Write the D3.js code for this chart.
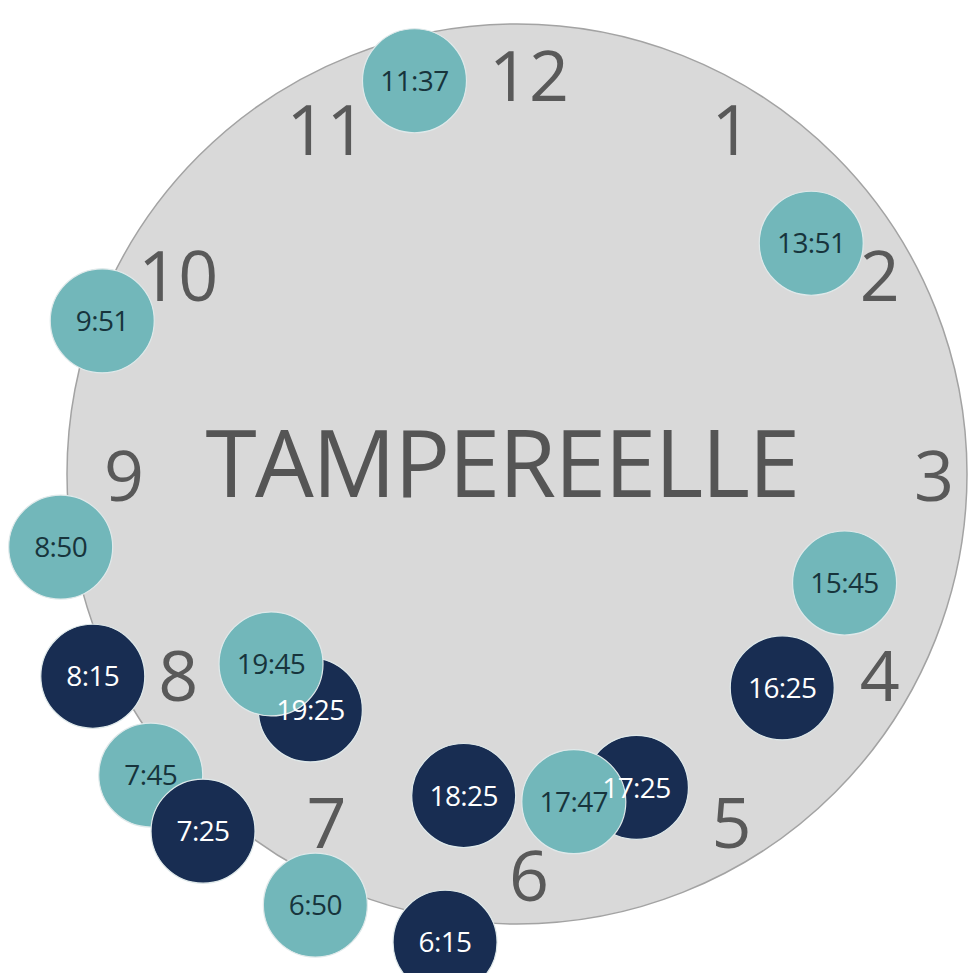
<!DOCTYPE html>
<html>
<head>
<meta charset="utf-8">
<script src="https://cdn.jsdelivr.net/npm/d3@7"></script>
<style>
  html, body { margin: 0; padding: 0; background: #fff; }
  svg { display: block; font-family: "Open Sans", sans-serif; }
</style>
</head>
<body>
<div id="chart"></div>
<script>
// departures, drawn in this order (later ones sit on top)
const departures = ["11:37", "13:51", "9:51", "8:50", "15:45", "8:15", "16:25", "7:45",
    "7:25", "6:50", "6:15", "18:25", "19:25", "19:45", "17:25", "17:47"];
const lines = ["light", "light", "light", "light", "light", "dark", "dark", "light",
    "dark", "light", "dark", "dark", "dark", "light", "dark", "light"];
const clockHours = [12, 1, 2, 3, 4, 5, 6, 7, 8, 9, 10, 11];
const title = "TAMPEREELLE";

const width = 969, height = 973;
const face = { cx: 517, cy: 474, r: 450 };

const svg = d3.select("#chart").append("svg")
    .attr("width", width)
    .attr("height", height);

// hours on a 12h dial -> angle (clockwise from 12)
const angle = d3.scaleLinear().domain([0, 12]).range([0, 2 * Math.PI]);

// morning departures on the outer ring, afternoon ones further in
const ring = d3.scaleThreshold()
    .domain([12])
    .range([
        { cx: 503, cy: 509, rx: 444, ry: 437 },
        { cx: 536, cy: 446, rx: 334, ry: 358 }
    ]);
const numberRing = { cx: 529, cy: 476, rx: 405, ry: 400 };

const fill = d3.scaleOrdinal().domain(["light", "dark"]).range(["#72b7ba", "#182d52"]);
const ink = d3.scaleOrdinal().domain(["light", "dark"]).range(["#17343c", "#ffffff"]);

const place = (g, hours) => {
    const a = angle(hours % 12);
    return [g.cx + g.rx * Math.sin(a), g.cy - g.ry * Math.cos(a)];
};

svg.append("circle")
    .attr("cx", face.cx)
    .attr("cy", face.cy)
    .attr("r", face.r)
    .attr("fill", "#d9d9d9")
    .attr("stroke", "#a3a3a3")
    .attr("stroke-width", 1.5);

svg.append("text")
    .attr("x", face.cx - 15)
    .attr("y", 464)
    .attr("dy", "0.36em")
    .attr("text-anchor", "middle")
    .attr("font-size", 93)
    .attr("letter-spacing", -1.6)
    .attr("fill", "#555555")
    .text(title);

svg.append("g")
    .selectAll("text")
    .data(clockHours)
    .join("text")
    .attr("x", d => place(numberRing, d)[0])
    .attr("y", d => place(numberRing, d)[1])
    .attr("dy", "0.36em")
    .attr("text-anchor", "middle")
    .attr("font-size", 70)
    .attr("fill", "#595959")
    .text(d => d);

const data = departures.map((t, i) => {
    const [h, m] = t.split(":").map(Number);
    const hours = h + m / 60;
    const [x, y] = place(ring(hours), hours);
    return { time: t, line: lines[i], x, y };
});

svg.append("g")
    .selectAll("circle")
    .data(data)
    .join("circle")
    .attr("cx", d => d.x)
    .attr("cy", d => d.y)
    .attr("r", 52)
    .attr("fill", d => fill(d.line))
    .attr("stroke", "#dfe9ea")
    .attr("stroke-width", 1.2);

// labels sit above every marker
svg.append("g")
    .selectAll("text")
    .data(data)
    .join("text")
    .attr("x", d => d.x)
    .attr("y", d => d.y)
    .attr("dy", "0.36em")
    .attr("text-anchor", "middle")
    .attr("font-size", 28)
    .attr("letter-spacing", -0.6)
    .attr("fill", d => ink(d.line))
    .text(d => d.time);
</script>
</body>
</html>
